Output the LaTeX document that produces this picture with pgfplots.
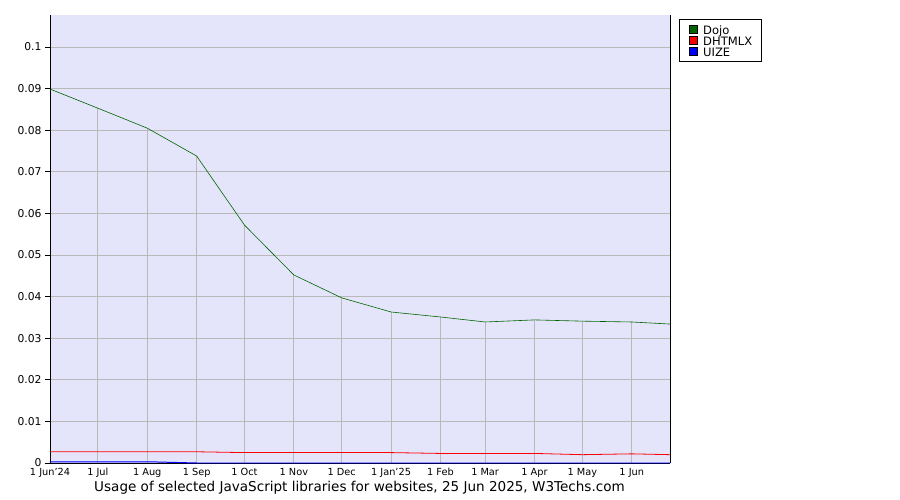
\documentclass[border=0pt]{standalone}
\usepackage{pgfplots}
\pgfplotsset{compat=1.18}
\usepackage{fontspec}
\setmainfont{DejaVu Sans}
\definecolor{bgl}{RGB}{228,228,250}
\definecolor{gridc}{RGB}{185,185,185}
\definecolor{dojo}{RGB}{0,100,0}
\begin{document}
\begin{tikzpicture}
\begin{axis}[
  at={(0,0)}, anchor=south west,
  scale only axis, width=620bp, height=448bp,
  xmin=0, xmax=389, ymin=0, ymax=0.1077,
  axis background/.style={fill=bgl},
  axis x line*=bottom, axis y line*=left,
  separate axis lines,
  every outer x axis line/.append style={black, line width=0.8pt},
  every outer y axis line/.append style={black, line width=0.8pt},
  xtick={0,30,61,92,122,153,183,214,245,273,304,334,365},
  xticklabels={1 Jun'24,1 Jul,1 Aug,1 Sep,1 Oct,1 Nov,1 Dec,1 Jan'25,1 Feb,1 Mar,1 Apr,1 May,1 Jun},
  xtick style={draw=none},
  ytick={0,0.01,0.02,0.03,0.04,0.05,0.06,0.07,0.08,0.09,0.1},
  yticklabels={0,0.01,0.02,0.03,0.04,0.05,0.06,0.07,0.08,0.09,0.1},
  ytick style={black, line width=0.8pt},
  tick align=outside, major tick length=5bp,
  ymajorgrids, grid style={gridc, line width=0.8pt},
  x tick label style={font=\fontsize{9.8}{11}\selectfont, yshift=3bp},
  y tick label style={font=\fontsize{10.8}{12}\selectfont},
  legend style={at={(1.0145,0.991)}, anchor=north west, draw=black, line width=0.6pt,
    font=\fontsize{11.6}{12}\selectfont, row sep=0pt, column sep=6bp,
    inner xsep=9.5bp, inner ysep=4.5bp,
    nodes={inner xsep=0pt, inner ysep=0pt, text height=11bp, text depth=0bp},
    legend cell align=left},
  legend image code/.code={\draw[#1, draw=black, line width=0.4pt] (0bp,-4bp) rectangle (8bp,4bp);},
  clip=false,
]
\addplot[ycomb, gridc, line width=0.8pt, forget plot] coordinates {
(30,0.0853)(61,0.0805)(92,0.0738)(122,0.0572)(153,0.0452)(183,0.0397)(214,0.0363)(245,0.0351)(273,0.0339)(304,0.0344)(334,0.0341)(365,0.0339)};
\draw[black, line width=0.8pt] (axis cs:389,0) -- (axis cs:389,0.1077);
\addplot[dojo, line width=0.6pt, forget plot] coordinates {
(0,0.0899)(30,0.0853)(61,0.0805)(92,0.0738)(122,0.0572)(153,0.0452)(183,0.0397)(214,0.0363)(245,0.0351)(273,0.0339)(304,0.0344)(334,0.0341)(365,0.0339)(389,0.0334)};
\addplot[red, line width=0.8pt, forget plot] coordinates {
(0,0.0027)(30,0.0027)(61,0.0027)(92,0.0027)(122,0.0025)(153,0.0025)(183,0.0025)(214,0.0025)(245,0.0023)(273,0.0023)(304,0.0023)(334,0.0020)(365,0.0022)(389,0.0020)};
\addplot[blue, line width=1pt, forget plot] coordinates {
(0,0.0003)(30,0.0003)(61,0.0003)(92,0.0000)(122,0.0000)(153,0.0000)(183,0.0000)(214,0.0000)(245,0.0000)(273,0.0000)(304,0.0000)(334,0.0000)(365,0.0000)(389,0.0000)};
\addlegendimage{fill=dojo}
\addlegendentry{Dojo}
\addlegendimage{fill=red}
\addlegendentry{DHTMLX}
\addlegendimage{fill=blue}
\addlegendentry{UIZE}
\end{axis}
\node[font=\fontsize{13.6}{15}\selectfont] at (309.5bp,-25bp) {Usage of selected JavaScript libraries for websites, 25 Jun 2025, W3Techs.com};
\path[use as bounding box] (-50bp,-37bp) rectangle (850bp,463bp);
\end{tikzpicture}
\end{document}
